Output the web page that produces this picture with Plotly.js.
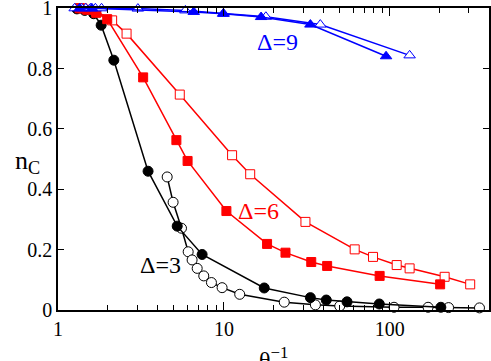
<!DOCTYPE html>
<html>
<head>
<meta charset="utf-8">
<script src="https://cdn.plot.ly/plotly-3.0.1.min.js"></script>
<style>
	html, body { margin: 0; padding: 0; background: #fff; }
	#chart { width: 491px; height: 361px; }
</style>
</head>
<body>
<div id="chart"></div>
<script>
// Delta = 3
const d3FilledX = [1.3, 1.45, 1.64, 1.82, 2.17, 3.49, 5.23, 7.39, 17.5, 33.2, 41.4, 55.2, 86.4, 203]
const d3FilledY = [0.998, 0.993, 0.982, 0.944, 0.828, 0.46, 0.278, 0.184, 0.073, 0.041, 0.033, 0.027, 0.02, 0.009]
const d3OpenX = [4.55, 4.94, 5.55, 6.09, 6.43, 6.9, 7.56, 8.41, 9.75, 12.45, 23.1, 35.6, 49.9, 106, 170, 226, 347]
const d3OpenY = [0.441, 0.357, 0.271, 0.193, 0.166, 0.138, 0.113, 0.091, 0.074, 0.052, 0.026, 0.017, 0.013, 0.009, 0.009, 0.008, 0.007]

// Delta = 6
const d6FilledX = [1.35, 1.5, 1.7, 1.98, 3.26, 5.17, 6.04, 10.35, 18.2, 23.5, 33.6, 41.9, 86.8, 201]
const d6FilledY = [1.0, 0.995, 0.985, 0.964, 0.771, 0.563, 0.494, 0.328, 0.219, 0.19, 0.159, 0.146, 0.113, 0.085]
const d6OpenX = [1.4, 1.7, 2.12, 2.59, 5.42, 11.2, 14.4, 31.0, 61.4, 79.2, 110, 131.6, 214, 305]
const d6OpenY = [1.0, 0.99, 0.96, 0.916, 0.714, 0.513, 0.45, 0.292, 0.201, 0.176, 0.149, 0.138, 0.11, 0.085]

// Delta = 9
const d9FilledX = [1.35, 1.6, 6.58, 9.89, 16.75, 33.2, 94.9]
const d9FilledY = [1.0, 1.0, 0.988, 0.982, 0.971, 0.946, 0.841]
const d9OpenX = [1.26, 1.39, 1.47, 1.57, 1.68, 1.83, 3.03, 5.86, 9.97, 17.9, 38.1, 131.6]
const d9OpenY = [1.0, 1.0, 1.0, 1.0, 1.0, 1.0, 0.999, 0.993, 0.982, 0.972, 0.946, 0.844]

const xTickVals = [1, 10, 100]
const xTickText = ['1', '10', '100']
const xMinorVals = [2, 3, 4, 5, 6, 7, 8, 9, 20, 30, 40, 50, 60, 70, 80, 90, 200, 300]
const yTickVals = [0, 0.2, 0.4, 0.6, 0.8, 1]
const yTickText = ['0', '0.2', '0.4', '0.6', '0.8', '1']

const serif = 'Liberation Serif'

function series(x, y, color, symbol, filled, size) {
	return {
		x: x,
		y: y,
		type: 'scatter',
		mode: 'lines+markers',
		cliponaxis: false,
		line: { color: color, width: 1.5 },
		marker: {
			symbol: symbol,
			size: size,
			color: filled ? color : '#ffffff',
			line: { color: color, width: 1 },
		},
		hoverinfo: 'skip',
	}
}

function createChart() {
	const traces = [
		series(d3OpenX, d3OpenY, '#000000', 'circle', false, 10),
		series(d3FilledX, d3FilledY, '#000000', 'circle', true, 10),
		series(d6OpenX, d6OpenY, '#ff0000', 'square', false, 9),
		series(d6FilledX, d6FilledY, '#ff0000', 'square', true, 9),
		series(d9OpenX, d9OpenY, '#0000ff', 'triangle-up', false, 10),
		series(d9FilledX, d9FilledY, '#0000ff', 'triangle-up', true, 10),
	]

	const layout = {
		width: 491,
		height: 361,
		showlegend: false,
		paper_bgcolor: '#ffffff',
		plot_bgcolor: '#ffffff',
		font: { family: serif, size: 20, color: '#000000' },
		margin: { l: 58, r: 2, t: 8, b: 51, pad: 0 },
		xaxis: {
			type: 'log',
			range: [0, Math.log10(396)],
			tickmode: 'array',
			tickvals: xTickVals,
			ticktext: xTickText,
			ticks: 'inside',
			ticklen: 8,
			tickwidth: 1,
			tickcolor: '#000000',
			ticklabeloverflow: 'allow',
			minor: {
				tickmode: 'array',
				tickvals: xMinorVals,
				ticks: 'inside',
				ticklen: 5,
				tickwidth: 1,
				tickcolor: '#000000',
			},
			showline: true,
			linecolor: '#000000',
			linewidth: 1.5,
			mirror: 'allticks',
			showgrid: false,
			zeroline: false,
			tickfont: { family: serif, size: 20 },
		},
		yaxis: {
			range: [0, 1.001],
			tickmode: 'array',
			tickvals: yTickVals,
			ticktext: yTickText,
			ticks: 'inside',
			ticklen: 6,
			tickwidth: 1,
			tickcolor: '#000000',
			ticklabeloverflow: 'allow',
			showline: true,
			linecolor: '#000000',
			linewidth: 1.5,
			mirror: 'allticks',
			showgrid: false,
			zeroline: false,
			tickfont: { family: serif, size: 20 },
		},
		annotations: [
			{
				xref: 'paper', yref: 'paper',
				x: 0.5, y: -0.158,
				yanchor: 'middle',
				text: 'θ<sup>−1</sup>',
				showarrow: false,
				font: { family: serif, size: 24 },
			},
			{
				xref: 'paper', yref: 'paper',
				x: -0.105, y: 0.49,
				text: 'n<sub>C</sub>',
				showarrow: false,
				font: { family: serif, size: 26 },
			},
			{
				x: Math.log10(21.0), y: 0.887,
				text: 'Δ=9',
				showarrow: false,
				font: { family: serif, size: 24, color: '#0000ff' },
			},
			{
				x: Math.log10(16.1), y: 0.328,
				text: 'Δ=6',
				showarrow: false,
				font: { family: serif, size: 24, color: '#ff0000' },
			},
			{
				x: Math.log10(4.14), y: 0.149,
				text: 'Δ=3',
				showarrow: false,
				font: { family: serif, size: 24, color: '#000000' },
			},
		],
	}

	return Plotly.newPlot('chart', traces, layout, { displayModeBar: false })
}

// the serif face has to be loaded before plotly measures the labels
window.onload = function () {
	document.fonts.load('20px "Liberation Serif"').then(createChart, createChart)
}
</script>
</body>
</html>
